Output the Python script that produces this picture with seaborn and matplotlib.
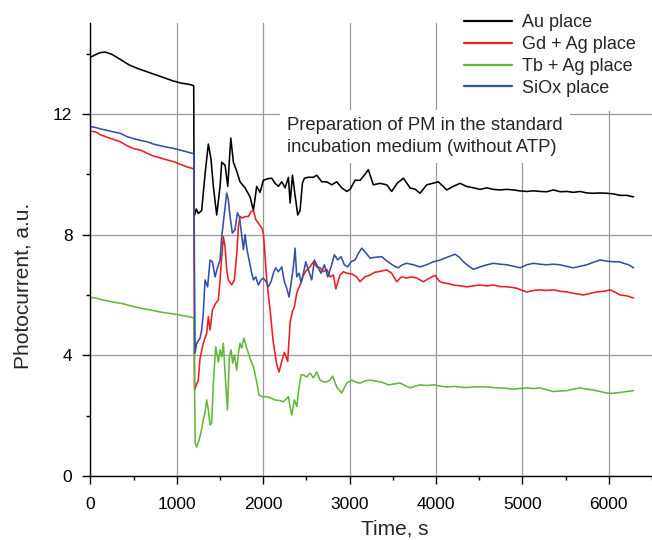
import matplotlib
matplotlib.use("Agg")
import matplotlib.pyplot as plt
import seaborn as sns
import pandas as pd
from matplotlib.ticker import MultipleLocator

# ---------------- data ----------------
series_names = ["Au place", "Gd + Ag place", "Tb + Ag place", "SiOx place"]
series_colors = ["#000000", "#ee1c24", "#62b83a", "#3350a8"]

au_t = [0, 50, 110, 170, 250, 342, 450, 550, 651, 750, 850, 959, 1050, 1120, 1171, 1195,
        1200, 1225, 1248, 1287, 1326, 1364, 1395, 1422, 1461, 1500, 1519, 1558, 1589, 1624,
        1654, 1693, 1731, 1789, 1847, 1886, 1924, 1963, 2001, 2050, 2098, 2137, 2175, 2214,
        2253, 2291, 2311, 2338, 2368, 2399, 2426, 2453, 2476, 2522, 2580, 2619, 2677, 2735,
        2793, 2850, 2908, 2966, 3005, 3063, 3121, 3178, 3216, 3274, 3350, 3429, 3487, 3550,
        3622, 3699, 3760, 3815, 3892, 3960, 4027, 4124, 4200, 4278, 4350, 4433, 4510, 4587,
        4660, 4742, 4820, 4896, 4970, 5050, 5130, 5205, 5280, 5359, 5440, 5514, 5590, 5668,
        5745, 5822, 5900, 5977, 6050, 6131, 6210, 6286]
au_v = [13.88, 13.95, 14.03, 14.05, 13.97, 13.81, 13.62, 13.5, 13.4, 13.3, 13.2, 13.09, 13.02, 12.99, 12.96, 12.93,
        8.6, 8.85, 8.7, 8.8, 10.0, 11.0, 10.5, 9.6, 8.65, 9.6, 10.4, 10.3, 9.6, 11.2,
        10.4, 10.1, 9.75, 9.55, 9.25, 8.8, 9.6, 9.4, 9.8, 9.85, 9.87, 9.7, 9.6, 9.75,
        9.55, 9.9, 9.05, 9.97, 9.3, 8.65, 8.8, 9.7, 9.87, 9.9, 9.9, 9.97, 9.75, 9.75,
        9.65, 9.75, 9.55, 9.43, 9.5, 9.8, 9.8, 10.0, 10.15, 9.65, 9.7, 9.65, 9.43, 9.7,
        9.87, 9.55, 9.5, 9.37, 9.65, 9.7, 9.75, 9.48, 9.6, 9.7, 9.6, 9.55, 9.5, 9.55,
        9.5, 9.48, 9.5, 9.48, 9.45, 9.43, 9.45, 9.43, 9.42, 9.48, 9.42, 9.43, 9.4, 9.43,
        9.38, 9.37, 9.38, 9.37, 9.35, 9.3, 9.3, 9.25]

gd_t = [0, 60, 120, 200, 270, 342, 420, 500, 580, 651, 730, 800, 880, 959, 1040, 1110, 1171, 1195,
        1205, 1230, 1248, 1268, 1306, 1345, 1364, 1384, 1411, 1450, 1480, 1500, 1519, 1538, 1558,
        1577, 1596, 1635, 1666, 1693, 1712, 1731, 1758, 1789, 1828, 1855, 1886, 1913, 1943, 1982,
        2001, 2021, 2040, 2079, 2117, 2156, 2183, 2214, 2244, 2283, 2311, 2338, 2360, 2388, 2426,
        2465, 2503, 2542, 2580, 2619, 2658, 2696, 2735, 2773, 2812, 2840, 2889, 2928, 2966, 3024,
        3082, 3120, 3178, 3236, 3290, 3332, 3380, 3429, 3487, 3545, 3600, 3660, 3720, 3776, 3853,
        3920, 3988, 4040, 4085, 4140, 4201, 4280, 4355, 4430, 4510, 4590, 4664, 4740, 4819, 4880,
        4935, 5000, 5050, 5130, 5205, 5280, 5359, 5440, 5514, 5600, 5707, 5780, 5861, 5940, 6016,
        6080, 6131, 6210, 6286]
gd_v = [11.43, 11.4, 11.3, 11.22, 11.15, 11.08, 10.95, 10.85, 10.8, 10.7, 10.6, 10.55, 10.48, 10.42, 10.33, 10.25, 10.2, 10.17,
        2.85, 3.05, 3.18, 3.9, 4.4, 4.73, 5.28, 4.84, 5.5, 5.73, 5.83, 6.5, 7.27, 7.93, 7.6,
        6.83, 6.5, 6.33, 6.5, 7.38, 8.25, 8.6, 8.55, 8.6, 8.6, 8.75, 8.8, 8.5, 8.38, 8.22,
        8.05, 7.27, 6.5, 5.5, 4.4, 3.7, 3.45, 3.8, 4.1, 3.8, 5.1, 5.45, 5.6, 6.07, 6.33,
        6.66, 6.83, 6.93, 7.1, 6.93, 6.9, 6.77, 6.85, 6.6, 6.66, 6.2, 6.66, 6.77, 6.72, 6.7,
        6.6, 6.44, 6.6, 6.66, 6.75, 6.77, 6.8, 6.83, 6.72, 6.44, 6.6, 6.56, 6.6, 6.56, 6.44,
        6.55, 6.65, 6.45, 6.4, 6.38, 6.33, 6.3, 6.27, 6.3, 6.33, 6.3, 6.33, 6.28, 6.27, 6.25,
        6.22, 6.15, 6.1, 6.15, 6.17, 6.15, 6.17, 6.12, 6.1, 6.05, 6.0, 6.05, 6.1, 6.12, 6.17,
        6.08, 6.0, 5.97, 5.9]

tb_t = [0, 60, 120, 200, 270, 360, 440, 520, 600, 700, 780, 860, 940, 1020, 1100, 1171, 1195,
        1205, 1212, 1229, 1256, 1280, 1306, 1326, 1345, 1364, 1384, 1403, 1422, 1450, 1480, 1500,
        1519, 1538, 1558, 1585, 1608, 1627, 1646, 1666, 1693, 1712, 1731, 1750, 1777, 1808, 1847,
        1886, 1924, 1951, 1990, 2040, 2090, 2137, 2195, 2233, 2291, 2311, 2330, 2360, 2388, 2414,
        2438, 2465, 2503, 2542, 2580, 2619, 2658, 2696, 2735, 2773, 2804, 2850, 2908, 2966, 3024,
        3082, 3120, 3180, 3236, 3290, 3352, 3400, 3448, 3510, 3583, 3640, 3699, 3760, 3815, 3890,
        3969, 4050, 4124, 4200, 4278, 4350, 4433, 4510, 4587, 4660, 4742, 4820, 4896, 4970, 5050,
        5130, 5205, 5280, 5359, 5440, 5514, 5590, 5668, 5745, 5822, 5900, 5977, 6050, 6131, 6210, 6286]
tb_v = [5.92, 5.9, 5.85, 5.8, 5.76, 5.72, 5.66, 5.6, 5.55, 5.5, 5.45, 5.41, 5.38, 5.34, 5.3, 5.26, 5.24,
        2.95, 1.09, 0.96, 1.19, 1.46, 1.86, 2.12, 2.52, 2.19, 1.69, 1.76, 3.08, 4.28, 3.78, 4.18,
        3.95, 4.4, 3.41, 2.19, 3.95, 4.18, 3.74, 4.01, 3.51, 4.07, 4.4, 4.24, 4.57, 4.24, 3.9,
        3.62, 3.12, 2.68, 2.63, 2.63, 2.58, 2.52, 2.5, 2.46, 2.63, 2.3, 2.02, 2.52, 2.3, 2.95,
        3.35, 3.35, 3.28, 3.41, 3.25, 3.45, 3.18, 3.12, 3.12, 3.18, 3.31, 2.95, 2.75, 3.08, 3.18,
        3.1, 3.08, 3.15, 3.18, 3.15, 3.12, 3.08, 3.02, 3.05, 3.08, 3.0, 2.92, 2.98, 3.02, 3.0,
        3.02, 2.98, 2.95, 2.97, 2.95, 2.93, 2.95, 2.96, 2.95, 2.93, 2.92, 2.9, 2.88, 2.9, 2.92,
        2.9, 2.92, 2.86, 2.8, 2.82, 2.83, 2.88, 2.92, 2.88, 2.85, 2.8, 2.75, 2.74, 2.77, 2.8, 2.83]

si_t = [0, 60, 120, 200, 270, 342, 420, 500, 580, 651, 730, 800, 880, 959, 1040, 1110, 1171, 1195,
        1210, 1229, 1268, 1287, 1306, 1326, 1356, 1384, 1411, 1442, 1473, 1500, 1519, 1550, 1577,
        1596, 1616, 1642, 1673, 1700, 1723, 1743, 1770, 1789, 1812, 1835, 1866, 1886, 1913, 1943,
        1974, 2001, 2032, 2059, 2090, 2117, 2144, 2175, 2214, 2244, 2272, 2299, 2322, 2349, 2368,
        2388, 2414, 2438, 2465, 2492, 2522, 2561, 2592, 2630, 2669, 2708, 2746, 2785, 2823, 2862,
        2900, 2939, 2978, 3016, 3063, 3101, 3140, 3178, 3236, 3300, 3371, 3420, 3468, 3520, 3564,
        3610, 3660, 3740, 3815, 3890, 3969, 4040, 4104, 4160, 4220, 4270, 4317, 4380, 4433, 4510,
        4590, 4664, 4740, 4819, 4900, 4973, 5050, 5128, 5200, 5282, 5360, 5437, 5510, 5591, 5670,
        5745, 5820, 5900, 5980, 6054, 6120, 6170, 6230, 6286]
si_v = [11.58, 11.55, 11.5, 11.45, 11.4, 11.36, 11.25, 11.18, 11.12, 11.08, 11.0, 10.95, 10.9, 10.86, 10.8, 10.75, 10.7, 10.68,
        4.07, 4.4, 4.57, 4.84, 5.4, 6.5, 6.27, 7.16, 7.1, 6.6, 6.93, 7.16, 7.93, 8.72, 9.38,
        9.15, 8.6, 8.05, 8.16, 8.72, 8.6, 8.16, 7.5, 8.0, 7.5, 7.16, 6.72, 6.5, 6.6, 6.33,
        6.5, 6.56, 6.44, 6.27, 6.44, 6.72, 6.9, 6.77, 6.93, 6.44, 6.22, 5.93, 6.4, 6.93, 7.55,
        6.6, 6.72, 6.4, 6.72, 7.1, 6.83, 6.5, 7.16, 6.93, 6.72, 7.0, 6.6, 6.93, 7.33, 7.16,
        7.27, 7.0, 6.93, 7.1, 7.16, 7.38, 7.55, 7.43, 7.22, 7.25, 7.27, 7.15, 7.05, 6.95, 6.9,
        7.0, 7.05, 7.0, 6.93, 7.0, 7.1, 7.15, 7.22, 7.28, 7.35, 7.25, 7.1, 6.95, 6.85, 6.93,
        7.0, 7.05, 7.02, 7.0, 6.95, 6.9, 7.0, 7.05, 7.02, 7.0, 7.02, 7.0, 6.95, 6.9, 6.95,
        7.0, 7.08, 7.16, 7.12, 7.1, 7.1, 7.05, 7.0, 6.9]

x_ticks = [0, 1000, 2000, 3000, 4000, 5000, 6000]
y_ticks = [0, 4, 8, 12]
x_label = "Time, s"
y_label = "Photocurrent, a.u."
note_text = "Preparation of PM in the standard\nincubation medium (without ATP)"

# ---------------- build table ----------------
frames = []
for name, t, v in zip(series_names, [au_t, gd_t, tb_t, si_t], [au_v, gd_v, tb_v, si_v]):
    frames.append(pd.DataFrame({"t": t, "v": v, "series": name}))
df = pd.concat(frames, ignore_index=True)

# ---------------- plot ----------------
sns.set_style("white")
plt.rcParams["font.family"] = ["Liberation Sans", "DejaVu Sans"]

fig = plt.figure(figsize=(6.52, 5.40), dpi=100)
ax = fig.add_axes([0.1388, 0.1185, 0.8612, 0.8382])

sns.lineplot(data=df, x="t", y="v", hue="series", hue_order=series_names,
             palette=dict(zip(series_names, series_colors)),
             estimator=None, sort=False, linewidth=1.15, ax=ax, legend=False)

ax.set_xlim(0, 6500)
ax.set_ylim(0, 15)
ax.set_xticks(x_ticks)
ax.set_yticks(y_ticks)
ax.xaxis.set_minor_locator(MultipleLocator(500))
ax.yaxis.set_minor_locator(MultipleLocator(2))
ax.grid(True, which="major", color="#9a9a9a", linewidth=0.9)
ax.set_axisbelow(True)

for s in ["top", "right"]:
    ax.spines[s].set_visible(False)
for s in ["left", "bottom"]:
    ax.spines[s].set_color("black")
    ax.spines[s].set_linewidth(1.0)

ax.tick_params(axis="both", which="major", direction="out", length=6, width=1.0,
               labelsize=12.5, colors="black")
ax.tick_params(axis="both", which="minor", direction="out", length=3, width=1.0, colors="black")
ax.tick_params(axis="x", which="major", pad=9)
ax.tick_params(axis="y", which="major", pad=7)
ax.tick_params(axis="both", which="both", bottom=True, left=True)

ax.set_xlabel(x_label, fontsize=15)
ax.set_ylabel(y_label, fontsize=15)
ax.xaxis.set_label_coords(0.542, -0.095)
ax.yaxis.set_label_coords(-0.104, 0.42)

# legend
handles = [plt.Line2D([0], [0], color=c, lw=1.6) for c in series_colors]
leg = fig.legend(handles, series_names, loc="upper left",
                 bbox_to_anchor=(0.689, 1.0), fontsize=13, frameon=True,
                 facecolor="white", edgecolor="none", framealpha=1.0, fancybox=False,
                 borderpad=0.8, handlelength=2.7, handletextpad=0.55, labelspacing=0.26,
                 borderaxespad=0.0)
leg.set_zorder(5)

# annotation
ax.text(2275, 11.9, note_text, fontsize=13.3, va="top", ha="left", linespacing=1.38,
        bbox=dict(facecolor="white", edgecolor="none", pad=5), zorder=4)

fig.savefig("out.png", dpi=100)
